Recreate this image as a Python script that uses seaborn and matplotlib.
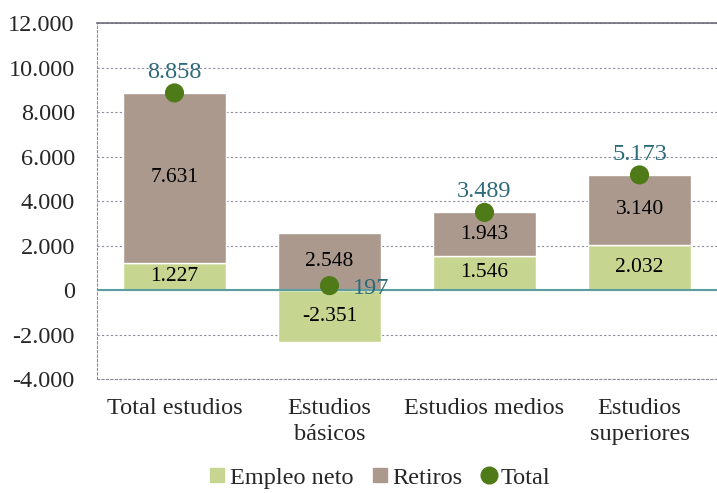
import numpy as np
import pandas as pd
import matplotlib
matplotlib.use('Agg')
import matplotlib.pyplot as plt
from matplotlib.lines import Line2D
import seaborn as sns

# datos
categorias = ['Total estudios', 'Estudios\nbásicos', 'Estudios medios', 'Estudios\nsuperiores']
empleo_neto = [1227, -2351, 1546, 2032]
retiros = [7631, 2548, 1943, 3140]
total = [8858, 197, 3489, 5173]
yticks = [-4000, -2000, 0, 2000, 4000, 6000, 8000, 10000, 12000]

c_empleo = '#C6D691'
c_retiros = '#AB998D'
c_total = '#4F7A18'
c_txt_total = '#2E6B7A'
c_cero = '#5B9EA0'
c_grid = '#8C8C9C'

sns.set_style('white')
plt.rcParams['font.family'] = ['Liberation Serif', 'DejaVu Serif']

def fmt(v):
    # separador de miles con punto
    return '{:,.0f}'.format(v).replace(',', '.')

df = pd.DataFrame({'cat': categorias, 'Empleo neto': empleo_neto,
                   'Retiros': retiros, 'Total': total})
# los retiros se apilan sobre la parte positiva del empleo
base_ret = [max(e, 0) for e in empleo_neto]

fig = plt.figure(figsize=(7.17, 4.93), dpi=100)
ax = fig.add_axes([0.1353, 0.2312, 0.8647, 0.7221])

sns.barplot(data=df, x='cat', y='Empleo neto', color=c_empleo, width=0.66,
            saturation=1, ax=ax, zorder=2)
sns.barplot(data=df, x='cat', y='Retiros', color=c_retiros, width=0.66,
            saturation=1, ax=ax, bottom=base_ret, zorder=2)
ax.axhline(0, color=c_cero, lw=1.5, zorder=3)
sns.scatterplot(data=df, x='cat', y='Total', color=c_total, s=190,
                edgecolor='none', ax=ax, zorder=5)

# etiquetas de los segmentos
for i in range(len(categorias)):
    ax.text(i, empleo_neto[i] / 2, fmt(empleo_neto[i]), ha='center', va='center',
            fontsize=15.5, color='black', zorder=6)
    ax.text(i, base_ret[i] + retiros[i] / 2, fmt(retiros[i]), ha='center', va='center',
            fontsize=15.5, color='black', zorder=6)
    if i == 1:
        ax.annotate(fmt(total[i]), (i, total[i]), xytext=(17, -2), textcoords='offset points',
                    ha='left', va='center', fontsize=17.5, color=c_txt_total, zorder=6)
    else:
        ax.annotate(fmt(total[i]), (i, total[i]), xytext=(0, 15), textcoords='offset points',
                    ha='center', va='center', fontsize=17.5, color=c_txt_total, zorder=6)

ax.set_xlim(-0.5, 3.5)
ax.set_ylim(-4000, 12000)
ax.set_yticks(yticks)
ax.set_yticklabels([fmt(v) for v in yticks])
ax.set_xlabel('')
ax.set_ylabel('')
ax.tick_params(axis='y', length=0, pad=16, labelsize=17.5)
ax.tick_params(axis='x', length=0, pad=14, labelsize=17.5)
for lab in ax.get_xticklabels():
    lab.set_linespacing(1.3)
ax.grid(True, axis='y', color=c_grid, ls=(0, (2, 2)), lw=0.8, zorder=0)
ax.set_axisbelow(True)

ax.spines['right'].set_visible(False)
ax.spines['top'].set_color('#6B6B7B')
ax.spines['top'].set_linewidth(1.2)
for s in ['left', 'bottom']:
    ax.spines[s].set_color(c_grid)
    ax.spines[s].set_linestyle((0, (2, 2)))
    ax.spines[s].set_linewidth(0.8)

handles = [Line2D([], [], marker='s', ls='none', color=c_empleo, markersize=10),
           Line2D([], [], marker='s', ls='none', color=c_retiros, markersize=10),
           Line2D([], [], marker='o', ls='none', color=c_total, markersize=12)]
fig.legend(handles, ['Empleo neto', 'Retiros', 'Total'], loc='center',
           bbox_to_anchor=(378 / 717, 0.031), ncol=3, frameon=False, fontsize=17.5,
           handletextpad=0.0, columnspacing=0.6, handlelength=1.0, borderpad=0.2)

fig.savefig('out.png', dpi=100)
